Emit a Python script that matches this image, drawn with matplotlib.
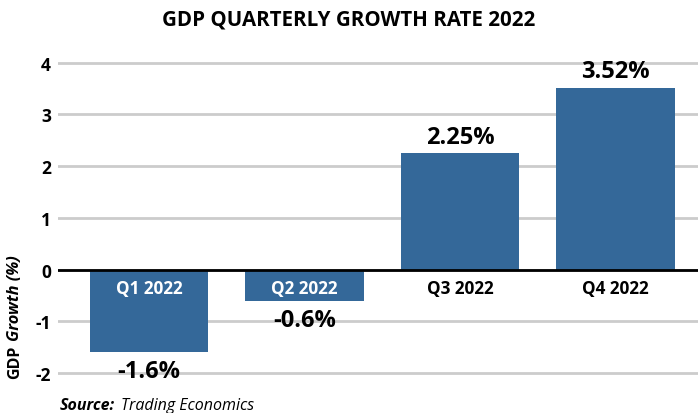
import matplotlib
matplotlib.use("Agg")
from matplotlib import pyplot as plt

quarters = ["Q1 2022", "Q2 2022", "Q3 2022", "Q4 2022"]
growth = [-1.6, -0.6, 2.25, 3.52]
value_labels = ["-1.6%", "-0.6%", "2.25%", "3.52%"]
yticks = [-2, -1, 0, 1, 2, 3, 4]

bar_color = "#346899"
plt.rcParams["font.family"] = ["Open Sans", "DejaVu Sans"]

fig = plt.figure(figsize=(6.98, 4.14), dpi=100)
ax = fig.add_axes([58 / 698, 0.0778, 1 - 58 / 698, 0.787])

x = list(range(len(quarters)))
ax.bar(x, growth, width=0.76, color=bar_color, zorder=2)

ax.set_xlim(-0.585, 3.53)
ax.set_ylim(-2.15, 4.15)
ax.set_yticks(yticks)
ax.set_yticklabels([str(t) for t in yticks], fontsize=12.5, fontweight="bold")
ax.tick_params(axis="y", length=0, pad=5)
ax.set_xticks([])
ax.grid(axis="y", color="#cccccc", linewidth=2, zorder=0)
ax.axhline(0, color="black", linewidth=2, zorder=3)
for s in ax.spines.values():
    s.set_visible(False)

# quarter names sit just under the zero line, white when inside a bar
for xi, q, v in zip(x, quarters, growth):
    ax.text(xi, -0.35, q, ha="center", va="center", fontsize=12.3, fontweight="bold",
            color="white" if v < 0 else "black", zorder=4)

# value labels above / below each bar
for xi, v, lab in zip(x, growth, value_labels):
    if v >= 0:
        ax.annotate(lab, (xi, v), xytext=(0, 3), textcoords="offset points",
                    ha="center", va="bottom", fontsize=17, fontweight="bold",
                    annotation_clip=False, zorder=4)
    else:
        ax.annotate(lab, (xi, v), xytext=(0, -5), textcoords="offset points",
                    ha="center", va="top", fontsize=17, fontweight="bold",
                    annotation_clip=False, zorder=4)

fig.text(0.5, 1 - 20 / 414, "GDP QUARTERLY GROWTH RATE 2022", ha="center", va="center",
         fontsize=14.8, fontweight="bold")
fig.text(15 / 698, 1 - 362 / 414, "GDP", rotation=90, ha="center", va="center",
         fontsize=11.5, fontweight="bold")
fig.text(15 / 698, 1 - 298 / 414, "Growth (%)", rotation=90, ha="center", va="center",
         fontsize=11.8, fontweight="bold", fontstyle="italic")
fig.text(60 / 698, 1 - 406 / 414, "Source:", ha="left", va="center",
         fontsize=11.5, fontweight="bold", fontstyle="italic")
fig.text(121 / 698, 1 - 406 / 414, "Trading Economics", ha="left", va="center",
         fontsize=11.5, fontstyle="italic")

fig.savefig("out.png", dpi=100)
